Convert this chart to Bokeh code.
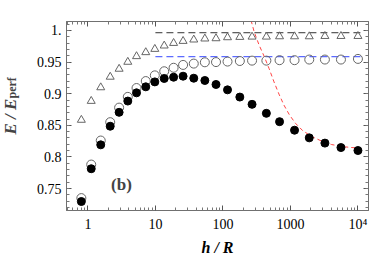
import math
from bokeh.plotting import figure
from bokeh.models import (Range1d, LogAxis, LinearAxis, Label, FixedTicker,
                          CustomJSTickFormatter)
from bokeh.embed import file_html
from bokeh.resources import INLINE

# ---- data ----
h = [0.8, 1.12, 1.55, 2.14, 2.9, 3.9, 5.25, 7.2, 9.8, 13.5, 18.6, 25.7, 37,
     54, 79, 117, 178, 270, 440, 690, 1150, 1900, 3240, 5600, 10000]
E_filled = [0.7296, 0.7814, 0.8192, 0.8486, 0.8706, 0.8884, 0.9014, 0.9109,
            0.9187, 0.9241, 0.9261, 0.9277, 0.9245, 0.9209, 0.9146, 0.9061,
            0.8947, 0.8832, 0.8690, 0.8558, 0.8423, 0.8302, 0.8219, 0.8149,
            0.8102]
E_open = [0.735, 0.788, 0.826, 0.855, 0.878, 0.895, 0.909, 0.920, 0.929,
          0.9355, 0.941, 0.9455, 0.9476, 0.9497, 0.950, 0.9508, 0.9517,
          0.9523, 0.9523, 0.953, 0.953, 0.954, 0.954, 0.954, 0.955]
E_tri = [0.8585, 0.8884, 0.9099, 0.9266, 0.9392, 0.9502, 0.9591, 0.9654,
         0.9706, 0.9759, 0.980, 0.9832, 0.9854, 0.987, 0.9874, 0.9890,
         0.9895, 0.990, 0.990, 0.9905, 0.9905, 0.9905, 0.991, 0.991, 0.991]

h_ref = [10, 11000]
E_ref_black = [0.9964, 0.9964]
E_ref_blue = [0.9585, 0.9585]

h_red = [261, 292, 345, 408, 483, 571, 676, 800, 968, 1186, 1517, 2080,
         2911, 4083, 6397, 10000]
E_red = [1.016, 0.9969, 0.9764, 0.9591, 0.9397, 0.9187, 0.8994, 0.8821,
         0.8664, 0.8533, 0.8417, 0.8322, 0.8250, 0.8196, 0.8160, 0.8140]

x_ticks = [1, 10, 100, 1000, 10000]
x_tick_labels = ["1", "10", "100", "1000", "10\u2074"]
y_ticks = [0.75, 0.8, 0.85, 0.9, 0.95, 1.0]
y_tick_labels = ["0.75", "0.8", "0.85", "0.9", "0.95", "1."]

# ---- figure ----
FONT = "Liberation Serif"
AX = "#707070"

p = figure(width=374, height=258, x_axis_type="log",
           x_range=Range1d(0.482, 14330), y_range=Range1d(0.7154, 1.01415),
           output_backend="svg", toolbar_location=None,
           min_border_left=62, min_border_right=6, min_border_top=21,
           min_border_bottom=47)
p.grid.visible = False
p.outline_line_color = AX
p.background_fill_color = "white"
p.border_fill_color = "white"

x_minor = [m * 10 ** k for k in range(-1, 5) for m in range(2, 10)]
y_minor = [round(0.70 + 0.01 * i, 2) for i in range(33)]

xt = FixedTicker(ticks=x_ticks, minor_ticks=x_minor)
yt = FixedTicker(ticks=y_ticks, minor_ticks=y_minor)
blank = CustomJSTickFormatter(code="return ''")


def style(ax):
    ax.axis_line_color = AX
    ax.major_tick_in = 5
    ax.major_tick_out = 0
    ax.minor_tick_in = 3
    ax.minor_tick_out = 0
    ax.major_tick_line_color = "#555555"
    ax.minor_tick_line_color = "#777777"
    ax.major_label_text_font = FONT
    ax.major_label_text_font_size = "14px"
    ax.major_label_text_color = "black"


xa = p.xaxis[0]
xa.ticker = xt
xa.major_label_overrides = {t: l for t, l in zip(x_ticks, x_tick_labels)}
style(xa)
xa.major_label_standoff = 6
xa.axis_label = "h / R"
xa.axis_label_text_font = FONT
xa.axis_label_text_font_style = "bold italic"
xa.axis_label_text_font_size = "16px"
xa.axis_label_text_color = "black"
xa.axis_label_standoff = 4

ya = p.yaxis[0]
ya.ticker = yt
ya.major_label_overrides = {t: l for t, l in zip(y_ticks, y_tick_labels)}
style(ya)
ya.major_label_standoff = 5

top = LogAxis(ticker=xt, formatter=blank)
style(top)
top.major_label_standoff = 0
top.major_label_text_font_size = "1px"
p.add_layout(top, "above")

right = LinearAxis(ticker=yt, formatter=blank)
style(right)
right.major_label_standoff = 0
right.major_label_text_font_size = "1px"
p.add_layout(right, "right")

# ---- lines ----
p.line(h_ref, E_ref_black, line_color="#333333", line_dash="7 4", line_width=1)
p.line(h_ref, E_ref_blue, line_color="#3344ff", line_dash="7 4", line_width=1)
p.line(h_red, E_red, line_color="#ff4444", line_dash="4 3", line_width=1)

# ---- markers ----
p.scatter(h, E_tri, marker="triangle", size=8, fill_color=None,
          line_color="#666666", line_width=1)
p.scatter(h, E_open, marker="circle", size=9, fill_color=None,
          line_color="#666666", line_width=1)
p.scatter(h, E_filled, marker="circle", size=8, fill_color="black",
          line_color="black")

# ---- labels ----
p.add_layout(Label(x=2.2, y=0.756, text="(b)", text_font=FONT,
                   text_font_style="bold", text_font_size="17px",
                   text_baseline="middle", text_align="left"))

p.add_layout(Label(x=-4, y=76, x_units="screen", y_units="screen",
                   text="E / E", angle=math.pi / 2, text_font=FONT,
                   text_font_style="bold italic", text_font_size="17px",
                   text_align="left", text_baseline="alphabetic"), "left")
p.add_layout(Label(x=11, y=112, x_units="screen", y_units="screen",
                   text="perf", angle=math.pi / 2, text_font=FONT,
                   text_font_style="bold", text_font_size="12px",
                   text_align="left", text_baseline="alphabetic"), "left")

open("out.html", "w").write(file_html(p, INLINE))
